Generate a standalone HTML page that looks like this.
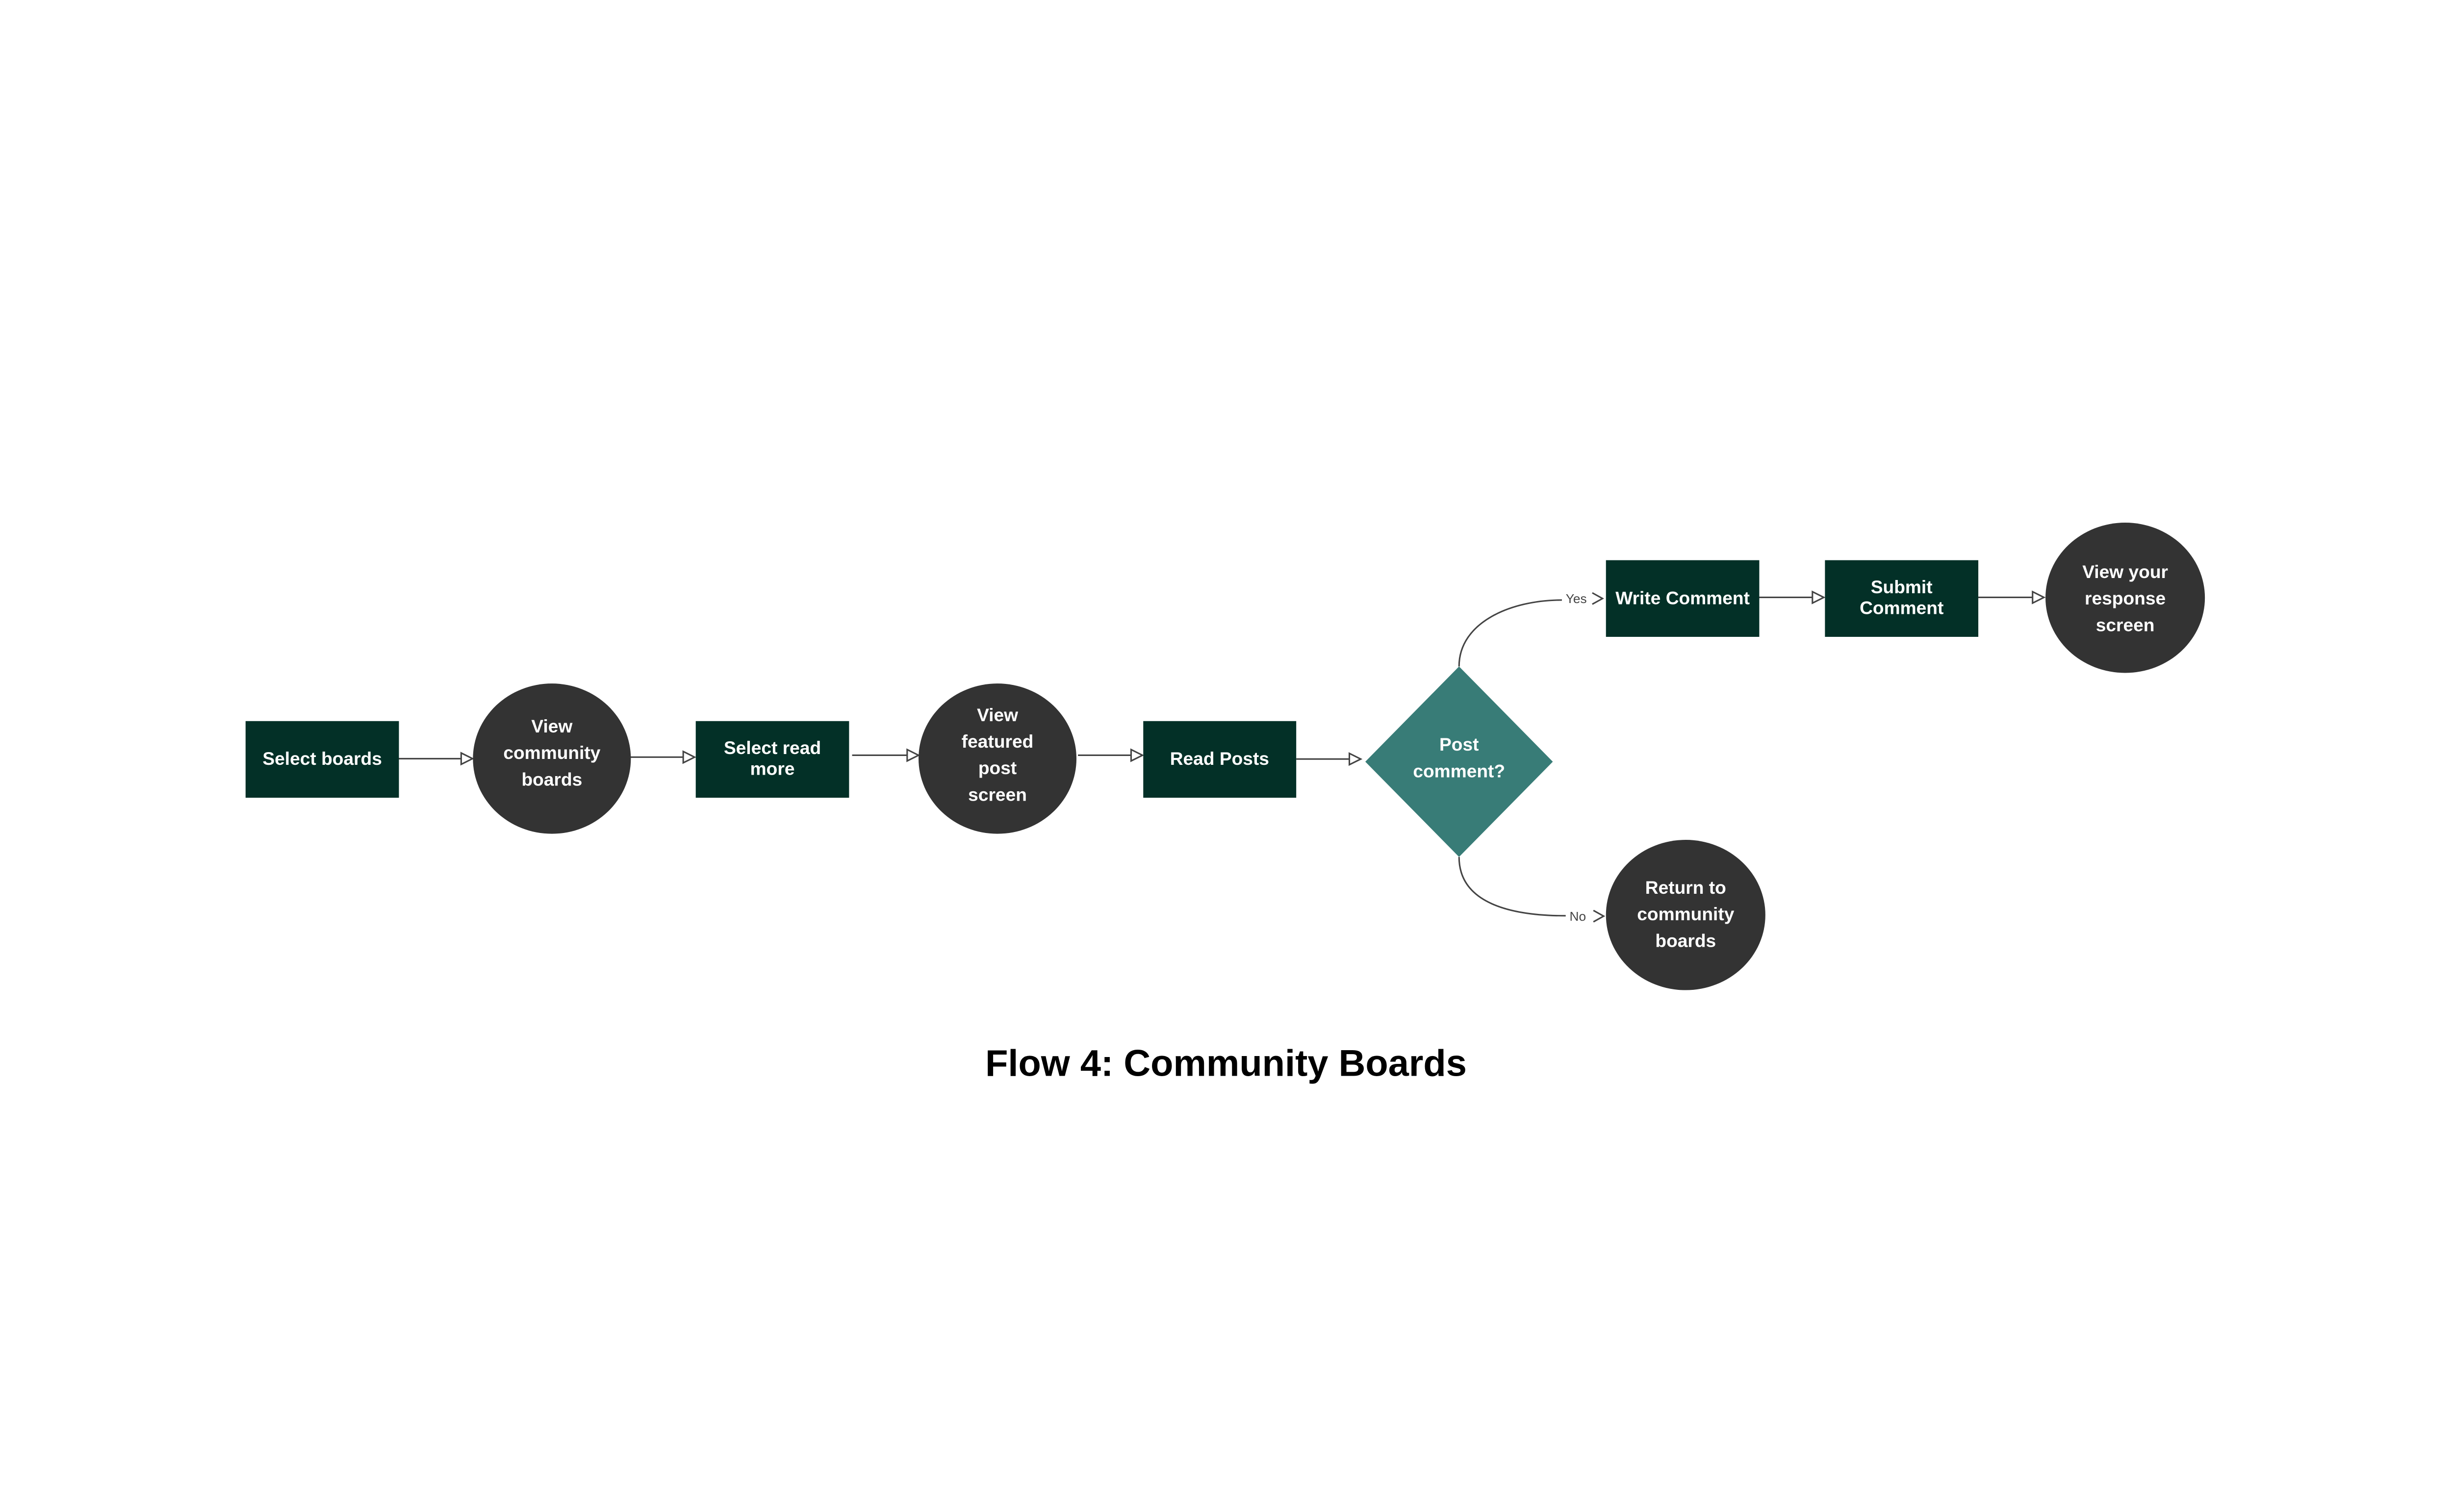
<!DOCTYPE html>
<html><head><meta charset="utf-8"><style>
html,body{margin:0;padding:0;background:#fff;width:100vw;height:100vh;overflow:hidden}
svg{display:block;width:100vw;height:100vh}
svg text{font-family:"Liberation Sans",Arial,sans-serif;font-weight:bold;fill:#fff}
</style></head><body>
<svg viewBox="0 0 6460 3084" preserveAspectRatio="xMidYMid meet" xmlns="http://www.w3.org/2000/svg">
<g fill="none" stroke="#444" stroke-width="4">
<line x1="1051" y1="1549" x2="1215" y2="1549"/>
<line x1="1660" y1="1545" x2="1800" y2="1545"/>
<line x1="2245" y1="1540" x2="2390" y2="1540"/>
<line x1="2840" y1="1540" x2="2980" y2="1540"/>
<line x1="3415" y1="1550" x2="3555" y2="1550"/>
<line x1="4635" y1="1124" x2="4775" y2="1124"/>
<line x1="5212" y1="1124" x2="5355" y2="1124"/>
<path d="M3844 1306 C3844 1190 3980 1131 4115 1131"/>
<path d="M3844 1808 C3844 1930 3980 1963 4125 1963"/>
<path d="M1215 1534 L1245 1549 L1215 1564 Z"/>
<path d="M1800 1530 L1830 1545 L1800 1560 Z"/>
<path d="M2390 1525 L2420 1540 L2390 1555 Z"/>
<path d="M2980 1525 L3010 1540 L2980 1555 Z"/>
<path d="M3555 1535 L3585 1550 L3555 1565 Z"/>
<path d="M4775 1109 L4805 1124 L4775 1139 Z"/>
<path d="M5355 1109 L5385 1124 L5355 1139 Z"/>
<path d="M4195 1112 L4222 1127 L4195 1142"/>
<path d="M4198 1949 L4225 1964 L4198 1979"/>
</g>
<g font-size="34">
<text x="4125" y="1139" style="fill:#444;font-weight:normal">Yes</text>
<text x="4135" y="1976" style="fill:#444;font-weight:normal">No</text>
</g>
<g fill="#033027">
<rect x="647" y="1450" width="404" height="202"/>
<rect x="1833" y="1450" width="404" height="202"/>
<rect x="3012" y="1450" width="403" height="202"/>
<rect x="4231" y="1026" width="404" height="202"/>
<rect x="4808" y="1026" width="404" height="202"/>
</g>
<g fill="#333">
<ellipse cx="1454" cy="1549" rx="208" ry="198"/>
<ellipse cx="2628" cy="1549" rx="208" ry="198"/>
<ellipse cx="5599" cy="1125" rx="210" ry="198"/>
<ellipse cx="4441" cy="1961" rx="210" ry="198"/>
</g>
<polygon points="3844,1306 4091,1557 3844,1808 3597,1557" fill="#387c77"/>
<g font-size="48" text-anchor="middle">
<text x="849" y="1565">Select boards</text>
<text x="1454" y="1480">View</text>
<text x="1454" y="1550">community</text>
<text x="1454" y="1620">boards</text>
<text x="2035" y="1537">Select read</text>
<text x="2035" y="1592">more</text>
<text x="2628" y="1450">View</text>
<text x="2628" y="1520">featured</text>
<text x="2628" y="1590">post</text>
<text x="2628" y="1660">screen</text>
<text x="3213" y="1565">Read Posts</text>
<text x="3844" y="1528">Post</text>
<text x="3844" y="1598">comment?</text>
<text x="4433" y="1142">Write Comment</text>
<text x="5010" y="1113">Submit</text>
<text x="5010" y="1168">Comment</text>
<text x="5599" y="1073">View your</text>
<text x="5599" y="1143">response</text>
<text x="5599" y="1213">screen</text>
<text x="4441" y="1905">Return to</text>
<text x="4441" y="1975">community</text>
<text x="4441" y="2045">boards</text>
</g>
<text x="3230" y="2385" font-size="98" text-anchor="middle" style="fill:#000">Flow 4: Community Boards</text>
</svg>
</body></html>
